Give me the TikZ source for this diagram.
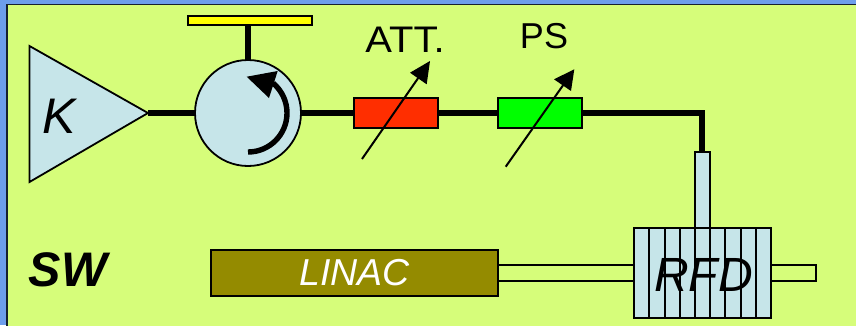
\documentclass[tikz,border=0pt]{standalone}
\usepackage{fontspec}
\setmainfont{Liberation Sans}
\usetikzlibrary{calc}
\definecolor{bgblue}{HTML}{6D9EEB}
\definecolor{bggreen}{HTML}{D6FD7A}
\definecolor{lblue}{HTML}{C6E5E9}
\definecolor{olivebox}{HTML}{948B00}
\definecolor{redbox}{HTML}{FF2E00}
\definecolor{greenbox}{HTML}{00FF00}
\definecolor{yellowbar}{HTML}{FFFF00}
\tikzset{
  x=1pt,y=-1pt,
  box/.style={draw=black,line width=2pt,rectangle,inner sep=0pt,outer sep=0pt},
  wire/.style={line width=5.4pt,draw=black},
  thinline/.style={line width=2pt,draw=black},
  tiplbl/.style={inner sep=0pt,font=\fontsize{36}{36}\selectfont},
  biglbl/.style={inner sep=0pt,font=\fontsize{48}{48}\selectfont\itshape},
}
\begin{document}
\begin{tikzpicture}
\useasboundingbox (0,0) rectangle (856,325);
\fill[bgblue] (0,0) rectangle (856,325);
\fill[bggreen,draw=black!80!bgblue,line width=1.6pt] (7,4.5) rectangle (870,340);
% pipes behind
\node[box,minimum width=136pt,minimum height=16pt] (pipeL) at (566,273) {};
\node[box,minimum width=45pt,minimum height=16pt] (pipeR) at (793.5,273) {};
% main elements
\node[box,fill=yellowbar,minimum width=124pt,minimum height=9pt] (load) at (250,20) {};
\node[draw=black,line width=1.8pt,fill=lblue,circle,minimum size=106pt,inner sep=0pt,outer sep=0pt] (circ) at (248,113) {};
\draw[line width=1.8pt,fill=lblue,line join=miter] (29.5,46) coordinate (t1) -- (148,113) coordinate (ampout) -- (29.5,182) coordinate (t2) -- cycle;
\node[biglbl,font=\fontsize{50}{50}\selectfont\itshape] (K) at (59.5,116) {K};
\node[box,fill=redbox,minimum width=84pt,minimum height=30pt] (att) at (396,113) {};
\node[box,fill=greenbox,minimum width=84pt,minimum height=30pt] (ps) at (540,113) {};
\node[box,fill=lblue,minimum width=15pt,minimum height=76pt] (feed) at (702.5,190) {};
\node[box,fill=lblue,minimum width=137pt,minimum height=90pt] (rfd) at (702.5,273) {};
\node[box,fill=olivebox,minimum width=287pt,minimum height=46pt,text=white,font=\fontsize{37.5}{37.5}\selectfont\itshape] (linac) at (354.5,273) {LINAC};
% wires
\draw[wire] (load.south -| circ.north) -- (circ.north);
\draw[wire] (ampout) -- (circ.west);
\draw[wire] (circ.east) -- (att.west);
\draw[wire] (att.east) -- (ps.west);
\coordinate (bend) at (702,113);
\draw[wire,line join=miter] (ps.east) -- (bend) -- (feed.north -| bend);
% circulator direction arrow
\coordinate (arcA) at (248,152);
\draw[line width=5.4pt] (arcA) arc[start angle=90,end angle=-50,radius=39];
\fill[black] (246.7,76.7) -- (277.7,71) -- (269,98) -- cycle;
% variable arrows
\coordinate (attA) at (362,159); \coordinate (attB) at (430,61);
\draw[thinline] (attA) -- ($(attA)!0.85!(attB)$);
\fill[black] (attB) -- (410,72.7) -- (426.7,84.3) -- cycle;
\coordinate (psA) at (505.7,166.7); \coordinate (psB) at (574.3,69.3);
\draw[thinline] (psA) -- ($(psA)!0.85!(psB)$);
\fill[black] (psB) -- (554,79.3) -- (571,91) -- cycle;
% RFD cells
\foreach \xx in {649,665,680,695,710,725,741,756}
  \draw[line width=1.8pt] (\xx,228) -- (\xx,318);
\node[biglbl] (rfdl) at (703.5,275) {RFD};
\node[tiplbl,font=\fontsize{37}{37}\selectfont,xscale=1.08] (attl) at (405,39.7) {ATT.};
\node[tiplbl] (psl) at (544,36.5) {PS};
\node[inner sep=0pt,font=\fontsize{48.5}{48.5}\selectfont\bfseries\itshape] (sw) at (68,270) {SW};
\end{tikzpicture}
\end{document}
